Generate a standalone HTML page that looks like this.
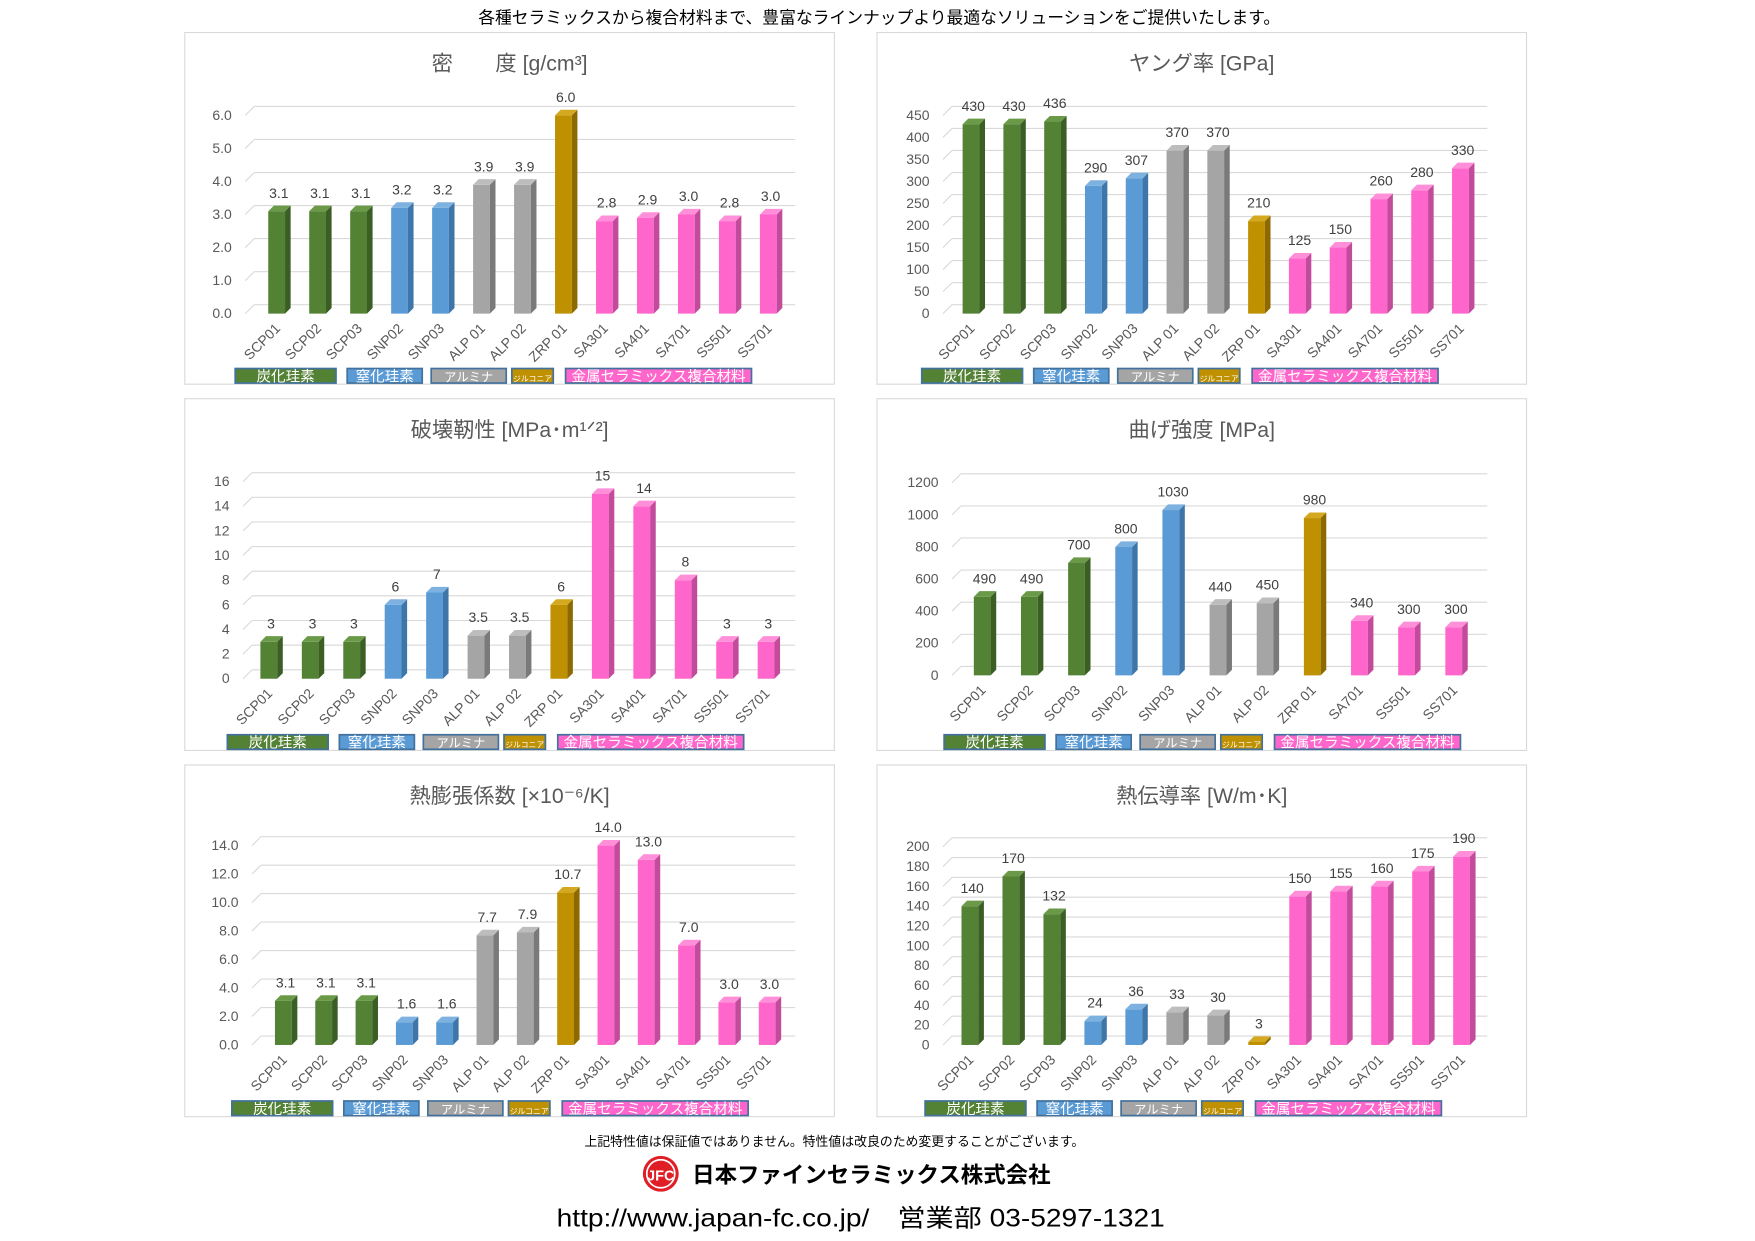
<!DOCTYPE html><html><head><meta charset="utf-8"><style>body{margin:0;background:#fff}svg{display:block}text{font-family:"Liberation Sans","Noto Sans CJK JP",sans-serif}</style></head><body>
<svg id="s" width="1755" height="1241" viewBox="0 0 1567 1108" xmlns="http://www.w3.org/2000/svg">
<text x="785" y="21" font-size="15" text-anchor="middle" fill="#000">各種セラミックスから複合材料まで、豊富なラインナップより最適なソリューションをご提供いたします。</text>
<text x="745" y="1023" font-size="11.5" text-anchor="middle" fill="#000">上記特性値は保証値ではありません。特性値は改良のため変更することがございます。</text>
<circle cx="590" cy="1048" r="16" fill="#e01e25"/><circle cx="590" cy="1048" r="12.5" fill="none" stroke="#fff" stroke-width="1.5"/>
<text x="590" y="1054" font-size="13" fill="#fff" text-anchor="middle" font-weight="bold">JFC</text>
<text x="618" y="1056" font-size="20" font-weight="bold" fill="#000" textLength="320" lengthAdjust="spacingAndGlyphs">日本ファインセラミックス株式会社</text>
<text x="497" y="1095" font-size="22" fill="#000" textLength="543" lengthAdjust="spacingAndGlyphs">http://www.japan-fc.co.jp/　営業部 03-5297-1321</text>
</svg>
<script>
const S=document.getElementById('s');const NS='http://www.w3.org/2000/svg';
function el(t,a,txt){const e=document.createElementNS(NS,t);for(const k in a)e.setAttribute(k,a[k]);if(txt!=null)e.textContent=txt;S.appendChild(e);return e;}
const C13=['SCP01','SCP02','SCP03','SNP02','SNP03','ALP 01','ALP 02','ZRP 01','SA301','SA401','SA701','SS501','SS701'];
const C11=['SCP01','SCP02','SCP03','SNP02','SNP03','ALP 01','ALP 02','ZRP 01','SA701','SS501','SS701'];
const col=[['#548235','#3b5e25','#6a9a48'],['#5b9bd5','#3f76aa','#7db1e0'],['#a5a5a5','#7a7a7a','#bdbdbd'],['#bf9000','#8c6a00','#d4a81f'],['#ff66cc','#c24b9c','#ff8fd9']];
function ci(i,n){if(i<3)return 0;if(i<5)return 1;if(i<7)return 2;if(i<8)return 3;return 4;}
const panels=[
{px:165,py:29,title:'密　　度 [g/cm³]',b0:251,t:74,max:6,step:1,dec:1,cats:C13,v:[3.1,3.1,3.1,3.2,3.2,3.9,3.9,6.0,2.8,2.9,3.0,2.8,3.0],bx0:82,bx1:521,lx:207,vd:1,leg:45},
{px:783,py:29,title:'ヤング率 [GPa]',b0:251,t:74,max:450,step:50,dec:0,cats:C13,v:[430,430,436,290,307,370,370,210,125,150,260,280,330],bx0:84,bx1:521,lx:830,vd:0,leg:40},
{px:165,py:356,title:'破壊靭性 [MPa･m¹ᐟ²]',b0:250,t:74,max:16,step:2,dec:0,cats:C13,v:[3,3,3,6,7,3.5,3.5,6,15,14,8,3,3],bx0:75,bx1:519,lx:205,vd:-1,leg:38},
{px:783,py:356,title:'曲げ強度 [MPa]',b0:247,t:75,max:1200,step:200,dec:0,cats:C11,v:[490,490,700,800,1030,440,450,980,340,300,300],bx0:94,bx1:515,lx:838,vd:0,leg:60,c11:true},
{px:165,py:683,title:'熱膨張係数 [×10⁻⁶/K]',b0:250,t:72,max:14,step:2,dec:1,cats:C13,v:[3.1,3.1,3.1,1.6,1.6,7.7,7.9,10.7,14.0,13.0,7.0,3.0,3.0],bx0:88,bx1:520,lx:213,vd:1,leg:42},
{px:783,py:683,title:'熱伝導率 [W/m･K]',b0:250,t:73,max:200,step:20,dec:0,cats:C13,v:[140,170,132,24,36,33,30,3,150,155,160,175,190],bx0:83,bx1:522,lx:830,vd:0,leg:43}];
panels.forEach(p=>{
 const X=p.px,Y=p.py;
 el('rect',{x:X,y:Y,width:580,height:314,fill:'#fff',stroke:'#d9d9d9','stroke-width':1});
 el('text',{x:X+290,y:Y+34,'font-size':19,'text-anchor':'middle',fill:'#595959'},p.title);
 const gx0=p.lx+12,gx1=X+545;const sc=(p.b0-p.t)/p.max;
 for(let v=0;v<=p.max+1e-9;v+=p.step){const y=Y+p.b0-v*sc;
  el('line',{x1:gx0,y1:y,x2:gx0+8,y2:y-8,stroke:'#d9d9d9'});
  el('line',{x1:gx0+8,y1:y-8,x2:gx1,y2:y-8,stroke:'#d9d9d9'});
  el('text',{x:p.lx,y:y+4,'font-size':12.5,'text-anchor':'end',fill:'#595959'},v.toFixed(p.dec));}
 const n=p.v.length,sp=(p.bx1-p.bx0)/(n-1);
 p.v.forEach((v,i)=>{let c=ci(i);if(p.c11&&i>=8)c=4;const cc=col[c];
  const cx=X+p.bx0+i*sp,w=15,d=5,x=cx-w/2,y0=Y+p.b0,y=y0-v*sc;
  el('rect',{x:x,y:y,width:w,height:v*sc,fill:cc[0]});
  el('polygon',{points:`${x+w},${y} ${x+w+d},${y-d} ${x+w+d},${y0-d} ${x+w},${y0}`,fill:cc[1]});
  el('polygon',{points:`${x},${y} ${x+d},${y-d} ${x+w+d},${y-d} ${x+w},${y}`,fill:cc[2]});
  let lab=p.vd==1?v.toFixed(1):String(v);
  el('text',{x:cx+2,y:y-12,'font-size':12.5,'text-anchor':'middle',fill:'#404040'},lab);
  el('text',{x:cx+4,y:y0+14,'font-size':12.5,'text-anchor':'end',fill:'#595959',transform:`rotate(-45 ${cx+4} ${y0+14})`},p.cats[i]);
 });
 const L=[[0,90,'#548235','炭化珪素',13],[100,67,'#5b9bd5','窒化珪素',13],[175,67,'#a5a5a5','アルミナ',11],[247,37,'#bf9000','ジルコニア',7],[295,166,'#ff66cc','金属セラミックス複合材料',13]];
 L.forEach(l=>{const lx=X+p.leg+l[0],ly=Y+300;
  el('rect',{x:lx,y:ly,width:l[1],height:13,fill:l[2],stroke:'#41719c','stroke-width':1.5});
  el('text',{x:lx+l[1]/2,y:ly+11.5,'font-size':l[4],'text-anchor':'middle',fill:'#fff'},l[3]);});
});
</script>
</body></html>
